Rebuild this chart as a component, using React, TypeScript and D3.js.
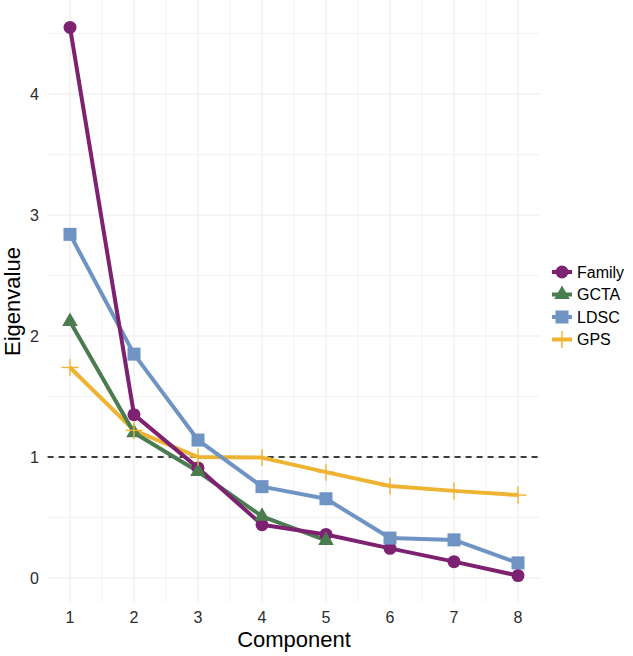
import React from 'react';
import * as d3 from 'd3';

const components = [1, 2, 3, 4, 5, 6, 7, 8];
const familyValues = [4.55, 1.35, 0.91, 0.44, 0.36, 0.245, 0.135, 0.02];
const gctaValues = [2.12, 1.2, 0.88, 0.51, 0.31];
const ldscValues = [2.84, 1.85, 1.14, 0.755, 0.655, 0.33, 0.315, 0.125];
const gpsValues = [1.74, 1.22, 1.0, 0.995, 0.875, 0.76, 0.72, 0.685];
const seriesNames = ['Family', 'GCTA', 'LDSC', 'GPS'];
const seriesColors = ['#7D2270', '#4A7C50', '#6F94C4', '#EFB332'];
const seriesShapes = ['circle', 'triangle', 'square', 'cross'];
const xTicks = [1, 2, 3, 4, 5, 6, 7, 8];
const yTicks = [0, 1, 2, 3, 4];
const xMinor = [1.5, 2.5, 3.5, 4.5, 5.5, 6.5, 7.5];
const yMinor = [0.5, 1.5, 2.5, 3.5, 4.5];
const threshold = 1;
const xTitle = 'Component';
const yTitle = 'Eigenvalue';

const W = 633;
const H = 656;
const FONT = '"Liberation Sans", Arimo, Arial, Helvetica, sans-serif';

function Shape({ shape, x, y, color }: { shape: string; x: number; y: number; color: string }) {
  if (shape === 'circle') return <circle cx={x} cy={y} r={6.5} fill={color} />;
  if (shape === 'square') return <rect x={x - 6.5} y={y - 6.5} width={13} height={13} fill={color} />;
  if (shape === 'triangle') {
    const p = d3.symbol().type(d3.symbolTriangle).size(105)();
    return <path d={p || ''} transform={`translate(${x},${y})`} fill={color} />;
  }
  return (
    <g stroke={color} strokeWidth={1.4}>
      <line x1={x - 8.5} x2={x + 8.5} y1={y} y2={y} />
      <line x1={x} x2={x} y1={y - 8.5} y2={y + 8.5} />
    </g>
  );
}

export default function App() {
  const allVals = [...familyValues, ...gctaValues, ...ldscValues, ...gpsValues];
  const yMin = d3.min(allVals) as number;
  const yMax = d3.max(allVals) as number;
  const yPad = (yMax - yMin) * 0.05;
  const xPad = (8 - 1) * 0.05;

  const x = d3.scaleLinear().domain([1, 8]).range([70, 518]);
  const y = d3.scaleLinear().domain([0, 4]).range([578, 94]);
  const left = x(1 - xPad);
  const right = x(8 + xPad);
  const top = y(yMax + yPad);
  const bottom = y(yMin - yPad);

  const series = [familyValues, gctaValues, ldscValues, gpsValues].map((vals, i) => ({
    name: seriesNames[i],
    color: seriesColors[i],
    shape: seriesShapes[i],
    pts: vals.map((v, j) => ({ c: components[j], v })),
  }));

  const line = d3
    .line<{ c: number; v: number }>()
    .x((d) => x(d.c))
    .y((d) => y(d.v));

  const grid = '#EBEBEB';
  const legendY0 = 272;
  const legendStep = 22.5;
  const tickColor = '#2B2B2B';

  return (
    <svg
      width={W}
      height={H}
      style={{ position: 'absolute', left: 0, top: 0, background: '#fff' }}
      fontFamily={FONT}
    >
      <rect x={0} y={0} width={W} height={H} fill="#fff" />
      {xMinor.map((t) => (
        <line key={'xm' + t} x1={x(t)} x2={x(t)} y1={top} y2={bottom} stroke={grid} strokeWidth={0.6} />
      ))}
      {yMinor.map((t) => (
        <line key={'ym' + t} x1={left} x2={right} y1={y(t)} y2={y(t)} stroke={grid} strokeWidth={0.6} />
      ))}
      {xTicks.map((t) => (
        <line key={'xg' + t} x1={x(t)} x2={x(t)} y1={top} y2={bottom} stroke={grid} strokeWidth={1.1} />
      ))}
      {yTicks.map((t) => (
        <line key={'yg' + t} x1={left} x2={right} y1={y(t)} y2={y(t)} stroke={grid} strokeWidth={1.1} />
      ))}
      <line
        x1={left}
        x2={right}
        y1={y(threshold)}
        y2={y(threshold)}
        stroke="#000"
        strokeWidth={1.3}
        strokeDasharray="6,5"
      />
      {[...series].reverse().map((s) => (
        <path key={'l' + s.name} d={line(s.pts) || ''} fill="none" stroke={s.color} strokeWidth={4} strokeLinejoin="round" />
      ))}
      {series.map((s) =>
        s.pts.map((p) => <Shape key={s.name + p.c} shape={s.shape} x={x(p.c)} y={y(p.v)} color={s.color} />)
      )}
      {xTicks.map((t) => (
        <text key={'xt' + t} x={x(t)} y={623} textAnchor="middle" fontSize={16} fill={tickColor}>
          {t}
        </text>
      ))}
      {yTicks.map((t) => (
        <text key={'yt' + t} x={39} y={y(t)} dy="0.36em" textAnchor="end" fontSize={16} fill={tickColor}>
          {t}
        </text>
      ))}
      <text x={(left + right) / 2} y={647} textAnchor="middle" fontSize={22} fill="#000">
        {xTitle}
      </text>
      <text
        transform={`translate(20,${(top + bottom) / 2}) rotate(-90)`}
        textAnchor="middle"
        fontSize={22}
        fill="#000"
      >
        {yTitle}
      </text>
      {series.map((s, i) => {
        const ly = legendY0 + i * legendStep;
        return (
          <g key={'lg' + s.name}>
            <line x1={552} x2={572} y1={ly} y2={ly} stroke={s.color} strokeWidth={4} />
            <Shape shape={s.shape} x={562} y={ly} color={s.color} />
            <text x={577} y={ly} dy="0.36em" fontSize={16} fill="#000">
              {s.name}
            </text>
          </g>
        );
      })}
    </svg>
  );
}
